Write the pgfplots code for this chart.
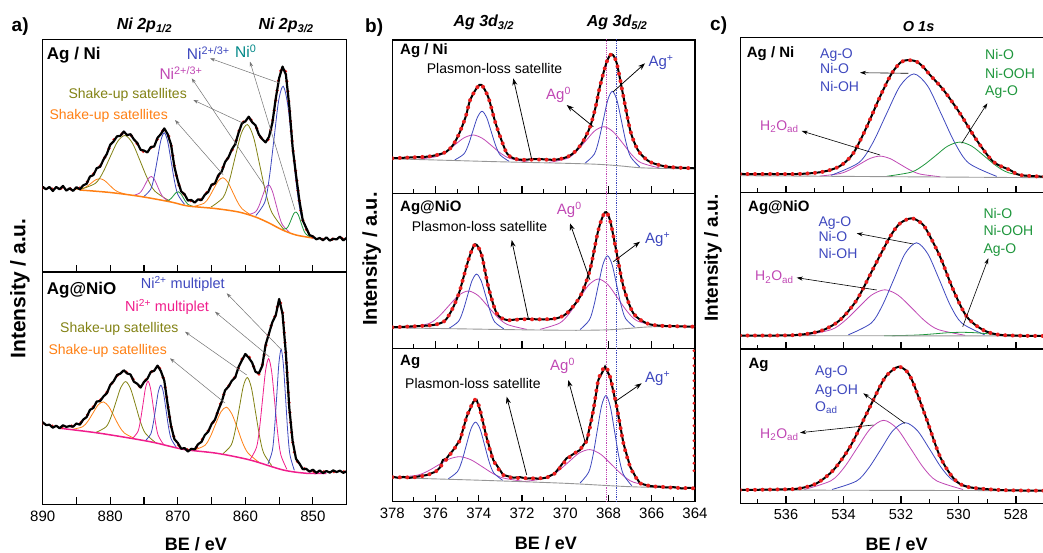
\documentclass[border=0pt]{standalone}
\usepackage{pgfplots}
\usepackage{pgfplotstable}
\pgfplotsset{compat=1.18}
\usepackage{fontspec}
\setmainfont{Liberation Sans}
\usetikzlibrary{arrows.meta}
\definecolor{cblue}{RGB}{62,72,190}
\definecolor{cmag}{RGB}{192,72,180}
\definecolor{cpink}{RGB}{240,30,140}
\definecolor{colive}{RGB}{130,130,20}
\definecolor{corange}{RGB}{255,128,20}
\definecolor{cgreen}{RGB}{30,150,60}
\definecolor{cteal}{RGB}{0,135,135}
\definecolor{cgray}{RGB}{150,150,150}
\definecolor{fitred}{RGB}{235,30,30}
\definecolor{agray}{RGB}{115,115,115}
\newcommand\ann{\fontsize{14}{17}\selectfont}
% tick marks drawn inward from the lower spine (y unit = 1pt)
\newcommand\ticksA{%
  \pgfplotsinvokeforeach{850,860,870,880}{\draw[black,line width=1.1pt] (axis cs:##1,0) -- (axis cs:##1,7);}%
  \pgfplotsinvokeforeach{855,865,875,885}{\draw[black,line width=1.1pt] (axis cs:##1,0) -- (axis cs:##1,7);}}
\newcommand\ticksB{%
  \pgfplotsinvokeforeach{366,368,370,372,374,376}{\draw[black,line width=1.1pt] (axis cs:##1,0) -- (axis cs:##1,7);}%
  \pgfplotsinvokeforeach{365,367,369,371,373,375,377}{\draw[black,line width=1.1pt] (axis cs:##1,0) -- (axis cs:##1,4.5);}}
\newcommand\ticksC{%
  \pgfplotsinvokeforeach{528,530,532,534,536}{\draw[black,line width=1.1pt] (axis cs:##1,0) -- (axis cs:##1,7);}%
  \pgfplotsinvokeforeach{529,531,533,535,537}{\draw[black,line width=1.1pt] (axis cs:##1,0) -- (axis cs:##1,4.5);}}

\pgfplotsset{
  xpsax/.style={scale only axis, anchor=north west, x dir=reverse,
    axis line style={line width=1.2pt},
    ytick=\empty, xtick pos=left, tick align=inside,
    major tick length=7pt, minor tick length=4.5pt,
    tick style={line width=1pt, black},
    ymin=0, clip=true,
    /pgf/number format/assume math mode=true,
    /pgf/number format/1000 sep={},
    xticklabel style={font=\fontsize{15}{18}\selectfont, yshift=-3pt}},
  cmp/.style={no marks, smooth, line width=0.8pt},
  dat/.style={no marks, black, line width=2.2pt, line join=round},
  fitd/.style={no marks, smooth, draw=fitred, line width=4pt, line cap=round, dash pattern=on 0pt off 7.5pt},
}

\pgfplotstableread{
E env dat
890.0 84 85.2
889.5 83.5 82.7
889.0 84.5 85.0
888.5 82.5 81.0
888.0 84 85.0
887.5 83 82.7
887.0 84.5 86.1
886.5 82.5 81.4
886.0 83.5 83.7
885.5 82 81.1
885.0 83.5 84.8
884.5 84 82.6
884.0 86 86.7
883.5 89 88.2
883.0 94 95.5
882.5 98 96.9
882.0 102 103.8
881.5 106 105.2
881.0 112 112.4
880.5 119 118.1
880.0 126 127.3
879.5 132 130.6
879.0 135 135.7
878.5 137 136.2
878.0 139 140.5
877.5 138 136.9
877.0 137 137.8
876.5 134 132.6
876.0 128 129.0
875.5 123 122.2
875.0 120 121.4
874.5 121 119.6
874.0 124 124.9
873.5 127 125.5
873.0 133 134.2
872.5 139 138.0
872.0 142 143.6
871.5 139 137.8
871.0 127 127.4
870.5 106 105.1
870.0 90 91.3
869.5 82 80.6
869.0 77 77.7
868.5 73 71.5
868.0 71 72.0
867.5 70 69.4
867.0 71 72.6
866.5 73 71.9
866.0 77 77.2
865.5 81 80.1
865.0 86 87.3
864.5 90 88.6
864.0 96 96.7
863.5 102 100.5
863.0 109 110.0
862.5 115 114.7
862.0 121 122.6
861.5 129 127.9
861.0 140 139.4
860.5 148 148.8
860.0 152 150.6
859.5 154 155.3
859.0 151 149.8
858.5 146 146.7
858.0 139 137.5
857.5 132 132.8
857.0 130.5 129.6
856.5 134 135.2
856.0 150 149.2
855.5 172 173.6
855.0 195 193.9
854.5 205 205.4
854.0 199 197.5
853.5 165 166.0
853.0 125 124.4
852.5 98 97.0
852.0 70 71.3
851.5 52 51.6
851.0 43 44.2
850.5 38 36.9
850.0 35 35.6
849.5 34 32.7
849.0 33 34.0
848.5 32.5 31.8
848.0 33 34.6
847.5 32.5 31.4
847.0 33 33.2
846.5 33.5 32.6
846.0 34 35.3
845.5 33 31.6
845.0 33.5 34.2
}\tabAtop

\pgfplotstableread{
E env dat
890.0 81 82.1
889.5 80 79.2
889.0 79 79.6
888.5 78 76.6
888.0 77.5 78.6
887.5 76.5 76.1
887.0 77.5 79.0
886.5 78.5 77.4
886.0 78 78.3
885.5 78.5 77.6
885.0 79.5 80.8
884.5 81 79.6
884.0 84 84.7
883.5 88 87.2
883.0 93 94.5
882.5 97.5 96.4
882.0 101 102.8
881.5 104 103.2
881.0 107.5 107.9
880.5 112 111.1
880.0 118 119.3
879.5 124.5 123.1
879.0 128.5 129.2
878.5 131.5 130.7
878.0 132.5 134.0
877.5 132 130.9
877.0 129 129.8
876.5 124 122.6
876.0 119.5 120.5
875.5 117.5 116.7
875.0 121 122.4
874.5 127 125.6
874.0 131.5 132.4
873.5 135 133.5
873.0 137.5 138.7
872.5 134 133.1
872.0 122 123.6
871.5 101 99.8
871.0 78 78.4
870.5 66 65.1
870.0 60 61.3
869.5 57 55.6
869.0 55.5 56.2
868.5 54.3 52.8
868.0 54.5 55.5
867.5 55.5 54.9
867.0 58.5 60.1
866.5 63.5 62.4
866.0 69 69.2
865.5 73.5 72.6
865.0 79 80.3
864.5 86 84.6
864.0 93.5 94.2
863.5 104 102.5
863.0 113 114.0
862.5 118 117.7
862.0 122 123.6
861.5 128 126.9
861.0 137 137.4
860.5 145 144.1
860.0 149 150.3
859.5 148 146.6
859.0 141 141.7
858.5 134 132.5
858.0 130 131.0
857.5 139 138.4
857.0 158 159.6
856.5 172 170.9
856.0 182 182.2
855.5 190 189.1
855.0 204 205.3
854.5 192 190.6
854.0 150 150.7
853.5 98 96.5
853.0 62 63.0
852.5 46 45.4
852.0 39.5 40.8
851.5 36.5 35.1
851.0 34.5 35.5
850.5 33.5 32.7
850.0 33 34.6
849.5 32.5 31.4
849.0 32.6 33.8
848.5 32.6 31.2
848.0 32.6 33.3
847.5 32.6 31.7
847.0 32.6 33.9
846.5 32.6 32.3
846.0 32.6 33.6
845.5 32.6 31.5
845.0 32.6 33.0
}\tabAbot

\begin{document}
\begin{tikzpicture}
\useasboundingbox (0pt,0pt) rectangle (1043pt,552pt);

% ================= Panel a, top (Ag / Ni)
\begin{axis}[xpsax, at={(42.7pt,512.7pt)}, width=304pt, height=232.7pt,
  xmin=845, xmax=890, ymax=232.7,
  xtick={850,860,...,890}, minor xtick={845,855,...,885}, xticklabels={}]
\addplot[cmp, corange] coordinates {(885.4,82.4)(884.1,83.6)(883.45,85.6)(882.8,89.0)(882.15,92.2)(881.5,93.3)(880.85,91.5)(880.2,87.5)(879.55,83.3)(878.9,80.3)(877.6,77.5)};
\addplot[cmp, colive] coordinates {(884.4,82.6)(882.2,88.7)(881.1,99.3)(880.0,115.3)(878.9,130.6)(877.8,136.5)(876.7,128.7)(875.6,111.4)(874.5,93.5)(873.4,80.9)(871.2,70.9)};
\addplot[cmp, cmag] coordinates {(876.6,76.5)(875.7,78.7)(875.25,82.3)(874.8,87.9)(874.35,93.5)(873.9,95.5)(873.45,92.4)(873.0,85.7)(872.55,78.9)(872.1,74.3)(871.2,70.4)};
\addplot[cmp, cblue] coordinates {(875.0,75.6)(874.0,82.9)(873.5,95.2)(873.0,113.6)(872.5,131.8)(872.0,139.2)(871.5,130.6)(871.0,111.2)(870.5,91.3)(870.0,77.6)(869.0,67.6)};
\addplot[cmp, cgreen] coordinates {(872.0,71.3)(871.3,72.0)(870.95,73.8)(870.6,76.7)(870.25,79.4)(869.9,80.2)(869.55,78.3)(869.2,74.4)(868.85,70.5)(868.5,67.6)(867.8,65.7)};
\addplot[cmp, corange] coordinates {(867.5,65.8)(866.1,68.8)(865.4,74.5)(864.7,83.0)(864.0,91.2)(863.3,94.3)(862.6,89.8)(861.9,80.3)(861.2,70.6)(860.5,63.3)(859.1,56.6)};
\addplot[cmp, colive] coordinates {(865.1,64.9)(863.3,74.5)(862.4,90.6)(861.5,115.1)(860.6,138.6)(859.7,147.4)(858.8,135.0)(857.9,107.8)(857.0,79.7)(856.1,59.8)(854.3,42.5)};
\addplot[cmp, cmag] coordinates {(859.5,57.4)(858.5,60.1)(858.0,65.8)(857.5,75.1)(857.0,84.0)(856.5,87.0)(856.0,80.8)(855.5,68.6)(855.0,56.1)(854.5,47.1)(853.5,39.9)};
\addplot[cmp, cblue] coordinates {(858.45,56.4)(857.1,70.3)(856.43,95.5)(855.75,133.7)(855.08,171.1)(854.4,185.8)(853.73,167.2)(853.05,125.7)(852.38,83.7)(851.7,55.5)(850.35,36.0)};
\addplot[cmp, cgreen] coordinates {(854.6,42.6)(853.9,43.6)(853.55,47.1)(853.2,52.7)(852.85,58.2)(852.5,60.0)(852.15,56.9)(851.8,50.2)(851.45,43.2)(851.1,38.4)(850.4,34.8)};
\addplot[no marks, smooth, corange, line width=1.5pt] coordinates {(884.5,82)(880,79.5)(875.5,75.5)(871,70)(868.5,66)(864.5,63.5)(861,60)(858.5,55)(856.5,49)(854.5,42)(852.5,37)(850,34)};
\addplot[fitd, line width=3.5pt, dash pattern=on 0pt off 10pt] table[x=E,y=env]{\tabAtop};
\addplot[dat] table[x=E,y=dat]{\tabAtop};
\ticksA
\end{axis}

% ================= Panel a, bottom (Ag@NiO)
\begin{axis}[xpsax, at={(42.7pt,279.7pt)}, width=304pt, height=232pt,
  xmin=845, xmax=890, ymax=232,
  xtick={850,860,...,890}, minor xtick={845,855,...,885}]
\addplot[cmp, corange] coordinates {(885.65,74.9)(884.1,77.5)(883.33,82.9)(882.55,91.3)(881.78,99.5)(881.0,102.4)(880.23,97.8)(879.45,88.1)(878.68,78.2)(877.9,71.2)(876.35,65.6)};
\addplot[cmp, colive] coordinates {(882.05,72.1)(880.6,77.6)(879.88,87.4)(879.15,102.4)(878.43,116.9)(877.7,122.7)(876.98,115.3)(876.25,99.1)(875.53,82.4)(874.8,71.0)(873.35,62.0)};
\addplot[cmp, cpink] coordinates {(876.65,66.3)(875.9,72.8)(875.53,83.8)(875.15,100.2)(874.78,116.4)(874.4,123.0)(874.03,115.5)(873.65,98.3)(873.28,80.8)(872.9,68.8)(872.15,60.3)};
\addplot[cmp, cblue] coordinates {(874.75,63.9)(874.0,70.4)(873.63,81.1)(873.25,97.1)(872.88,112.8)(872.5,119.1)(872.13,111.7)(871.75,94.8)(871.38,77.6)(871.0,65.8)(870.25,57.3)};
\addplot[cmp, corange] coordinates {(867.6,54.2)(866.0,58.9)(865.2,67.4)(864.4,80.3)(863.6,92.6)(862.8,97.1)(862.0,90.4)(861.2,76.5)(860.4,61.4)(859.6,51.2)(858.0,42.1)};
\addplot[cmp, colive] coordinates {(863.3,50.7)(862.1,59.2)(861.5,73.9)(860.9,96.2)(860.3,118.1)(859.7,126.8)(859.1,116.3)(858.5,92.4)(857.9,68.1)(857.3,51.3)(856.1,38.7)};
\addplot[cmp, cpink] coordinates {(859.25,45.4)(858.35,56.9)(857.9,76.1)(857.45,105.4)(857.0,134.0)(856.55,145.7)(856.1,132.2)(855.65,101.8)(855.2,70.6)(854.75,49.5)(853.85,35.0)};
\addplot[cmp, cblue] coordinates {(856.65,40.3)(856.0,53.8)(855.68,75.9)(855.35,109.1)(855.03,141.5)(854.7,154.9)(854.38,140.2)(854.05,106.8)(853.73,72.7)(853.4,49.6)(852.75,34.0)};
\addplot[no marks, smooth, cpink, line width=1.5pt] coordinates {(887.4,76)(881.5,71)(874.1,62.6)(869.2,55)(864.2,51)(859.3,44.3)(854.4,34.3)(850.9,31)(848,31)};
\addplot[fitd, line width=3.5pt, dash pattern=on 0pt off 10pt] table[x=E,y=env]{\tabAbot};
\addplot[dat] table[x=E,y=dat]{\tabAbot};
\ticksA
\end{axis}

% ================= Panel b, top (Ag / Ni)
\begin{axis}[xpsax, at={(392.3pt,512pt)}, width=302.7pt, height=153.3pt,
  xmin=364, xmax=378, ymax=153.3,
  xtick={364,366,...,378}, minor xtick={365,367,...,377}, xticklabels={}]
\addplot[no marks, densely dotted, cmag, line width=0.8pt] coordinates {(368.08,0)(368.08,160)};
\addplot[no marks, densely dotted, cblue, line width=0.8pt] coordinates {(367.65,0)(367.65,160)};
\addplot[cmp, cmag] coordinates {(376.8,34.1)(375.95,36.8)(375.53,41.4)(375.1,48.6)(374.68,55.5)(374.25,58.3)(373.83,54.9)(373.4,47.5)(372.98,39.9)(372.55,34.8)(371.7,31.1)};
\addplot[cmp, cblue] coordinates {(375.11,33.4)(374.69,39.3)(374.48,48.6)(374.27,62.6)(374.06,76.2)(373.85,82.0)(373.64,76.0)(373.43,62.0)(373.22,47.8)(373.01,38.3)(372.59,31.9)};
\addplot[cmp, cmag] coordinates {(370.75,30.8)(369.9,35.0)(369.48,42.0)(369.05,52.5)(368.63,62.6)(368.2,66.6)(367.78,61.4)(367.35,50.3)(366.93,38.7)(366.5,30.6)(365.65,25.4)};
\addplot[cmp, cblue] coordinates {(369.08,30.2)(368.66,39.1)(368.45,52.9)(368.24,73.5)(368.03,93.6)(367.82,102.0)(367.61,93.0)(367.4,72.2)(367.19,50.9)(366.98,36.5)(366.56,26.4)};
\addplot[no marks, smooth, cgray, line width=0.9pt] coordinates {(378,34.5)(375.5,33)(373,31.5)(370,30)(368.5,29)(367.5,27.5)(366.5,25.5)(365,24.7)(364,24.5)};
\addplot[no marks, smooth, black, line width=2pt] coordinates {(378,35)(377.5,35.5)(377,36)(376.4,36.6)(375.9,38.5)(375.5,41.6)(375.2,48)(374.9,60)(374.6,77)(374.4,93.3)(374.07,106)(373.87,108.3)(373.56,96)(373.25,72)(373.0,56)(372.7,40)(372.4,35)(372,33.5)(371.3,34.3)(370.6,33.5)(370.2,34.5)(369.8,37.5)(369.47,43.3)(369.15,53)(368.85,66.6)(368.6,86)(368.4,106.6)(368.08,131.6)(367.85,139)(367.62,130)(367.31,96.6)(367.0,63.3)(366.75,48)(366.54,40)(366.2,33)(365.93,30)(365.4,27)(364.8,25.7)(364,25)};
\addplot[fitd] coordinates {(378,35)(377.5,35.5)(377,36)(376.4,36.6)(375.9,38.5)(375.5,41.6)(375.2,48)(374.9,60)(374.6,77)(374.4,93.3)(374.07,106)(373.87,108.3)(373.56,96)(373.25,72)(373.0,56)(372.7,40)(372.4,35)(372,33.5)(371.3,33.8)(370.6,33.5)(370.2,34.5)(369.8,37.5)(369.47,43.3)(369.15,53)(368.85,66.6)(368.6,86)(368.4,106.6)(368.08,131.6)(367.85,139)(367.62,130)(367.31,96.6)(367.0,63.3)(366.75,48)(366.54,40)(366.2,33)(365.93,30)(365.4,27)(364.8,25.7)(364,25)};
\ticksB
\end{axis}

% ================= Panel b, middle (Ag@NiO)
\begin{axis}[xpsax, at={(392.3pt,358.7pt)}, width=302.7pt, height=155pt,
  xmin=364, xmax=378, ymax=155,
  xtick={364,366,...,378}, minor xtick={365,367,...,377}, xticklabels={}]
\addplot[no marks, densely dotted, cmag, line width=0.8pt] coordinates {(368.08,0)(368.08,160)};
\addplot[no marks, densely dotted, cblue, line width=0.8pt] coordinates {(367.65,0)(367.65,160)};
\addplot[cmp, cmag] coordinates {(377.18,20.6)(376.28,25.0)(375.83,32.1)(375.38,42.7)(374.93,53.0)(374.48,57.3)(374.03,52.7)(373.58,42.0)(373.13,31.2)(372.68,23.8)(371.78,18.9)};
\addplot[cmp, cblue] coordinates {(375.36,20.2)(374.94,26.9)(374.73,37.3)(374.52,52.7)(374.31,67.8)(374.1,74.2)(373.89,67.6)(373.68,52.5)(373.47,36.9)(373.26,26.3)(372.84,19.4)};
\addplot[cmp, cmag] coordinates {(371.17,18.9)(370.27,25.1)(369.82,34.7)(369.37,48.9)(368.92,63.2)(368.47,69.3)(368.02,63.5)(367.57,50.0)(367.12,36.4)(366.67,27.4)(365.77,22.2)};
\addplot[cmp, cblue] coordinates {(369.31,18.8)(368.89,28.2)(368.68,42.2)(368.47,63.2)(368.26,83.7)(368.05,92.5)(367.84,84.1)(367.63,64.0)(367.42,43.4)(367.21,29.7)(366.79,21.1)};
\addplot[no marks, smooth, cgray, line width=0.9pt] coordinates {(378,20.5)(375,19.5)(372,18.5)(369.5,18)(368,18.5)(367,20)(366,21.5)(364,22)};
\addplot[no marks, smooth, black, line width=2pt] coordinates {(378,21)(377,22)(376.1,23.3)(375.6,27)(375.33,35)(375.1,45)(374.87,58.3)(374.48,88.3)(374.17,104)(373.87,93.3)(373.56,61.6)(373.17,35)(372.7,28.3)(372,29.5)(371,28.8)(370.4,30)(369.93,35)(369.32,51.6)(368.86,78.3)(368.47,118.3)(368.16,136)(367.93,128)(367.62,95)(367.31,61.6)(366.85,35)(366.23,25)(365.62,22.6)(364.8,22)(364,21.6)};
\addplot[fitd] coordinates {(378,21)(377,22)(376.1,23.3)(375.6,27)(375.33,35)(375.1,45)(374.87,58.3)(374.48,88.3)(374.17,104)(373.87,93.3)(373.56,61.6)(373.17,35)(372.7,28.3)(372,29)(371,29)(370.4,30)(369.93,35)(369.32,51.6)(368.86,78.3)(368.47,118.3)(368.16,136)(367.93,128)(367.62,95)(367.31,61.6)(366.85,35)(366.23,25)(365.62,22.6)(364.8,22)(364,21.6)};
\ticksB
\end{axis}

% ================= Panel b, bottom (Ag)
\begin{axis}[xpsax, at={(392.3pt,203.7pt)}, width=302.7pt, height=153.4pt,
  xmin=364, xmax=378, ymax=153.4,
  xtick={364,366,...,378}, minor xtick={365,367,...,377}]
\addplot[no marks, densely dotted, cmag, line width=0.8pt] coordinates {(368.08,0)(368.08,160)};
\addplot[no marks, densely dotted, cblue, line width=0.8pt] coordinates {(367.65,0)(367.65,160)};
\addplot[cmp, cmag] coordinates {(377.87,24.2)(376.87,26.4)(376.37,30.5)(375.87,36.7)(375.37,42.7)(374.87,45.0)(374.37,42.0)(373.87,35.4)(373.37,28.5)(372.87,23.7)(371.87,20.1)};
\addplot[cmp, cblue] coordinates {(375.41,22.9)(374.99,30.0)(374.78,40.7)(374.57,57.0)(374.36,72.9)(374.15,79.6)(373.94,72.7)(373.73,56.5)(373.52,39.9)(373.31,28.9)(372.89,21.3)};
\addplot[cmp, cmag] coordinates {(371.86,20.2)(370.86,23.8)(370.36,30.1)(369.86,39.4)(369.36,48.6)(368.86,52.1)(368.36,47.4)(367.86,37.2)(367.36,26.8)(366.86,19.6)(365.86,14.8)};
\addplot[cmp, cblue] coordinates {(369.32,18.6)(368.92,29.4)(368.72,46.1)(368.52,71.3)(368.32,95.9)(368.12,106.2)(367.92,95.4)(367.72,70.4)(367.52,44.8)(367.32,27.6)(366.92,15.9)};
\addplot[no marks, smooth, cgray, line width=0.9pt] coordinates {(378,24)(374,21.5)(370,18.4)(367,15)(364,13.4)};
\addplot[no marks, black, line width=2pt] coordinates {(378,25)(377.7,23.8)(377.5,24.8)(377.2,23.9)(377,24.6)(376.8,25.2)(376.4,26.7)(376,30)(375.8,34)(375.66,41.7)(375.5,43)(375.4,46)(375.18,51.7)(374.87,61.7)(374.56,85)(374.25,100)(374.1,101.7)(373.94,91.7)(373.63,63.4)(373.33,41.7)(372.87,26.7)(372.6,25.2)(372.4,24)(372.1,24.6)(371.8,23.1)(371.5,23.6)(371.2,22.9)(370.9,24)(370.5,28)(370.24,35)(369.94,43.4)(369.6,48)(369.32,51.7)(369.0,61.7)(368.7,91.7)(368.47,121.7)(368.16,135)(367.93,125)(367.62,95)(367.31,58.4)(367.0,35)(366.75,25)(366.54,18.4)(366.2,16.2)(366,15.5)(365.62,15)(365.3,14.2)(365,14.6)(364.6,13.2)(364.3,13.9)(364,13.4)};
\addplot[fitd] coordinates {(378,24.5)(377,24.4)(376.4,26.7)(376,30)(375.66,38)(375.4,45)(375.18,51.7)(374.87,61.7)(374.56,85)(374.25,100)(374.1,101.7)(373.94,91.7)(373.63,63.4)(373.33,41.7)(372.87,26.7)(372.4,24)(371.5,23.4)(370.9,24)(370.5,28)(370.24,34)(369.94,42)(369.6,48)(369.32,52.5)(369.0,61.7)(368.7,91.7)(368.47,121.7)(368.16,135)(367.93,125)(367.62,95)(367.31,58.4)(367.0,35)(366.75,25)(366.54,18.4)(366,15.5)(365.62,15)(365,14)(364,13.4)};
\addplot[fitd, sharp plot, line width=3pt] coordinates {(364.05,31)(364.05,153)};
\ticksB
\end{axis}

% ================= Panel c, top (Ag / Ni)
\begin{axis}[xpsax, at={(740.7pt,514.3pt)}, width=304pt, height=155pt,
  xmin=527, xmax=537.576, ymax=155,
  xtick={528,530,...,536}, minor xtick={527,529,...,537}, xticklabels={}]
\addplot[cmp, cmag] coordinates {(534.83,16.6)(534.13,19.1)(533.78,22.9)(533.43,28.6)(533.08,34.2)(532.73,36.6)(532.38,34.1)(532.03,28.4)(531.68,22.6)(531.33,18.6)(530.63,15.9)};
\addplot[cmp, cblue] coordinates {(534.43,17.4)(533.47,30.0)(532.99,49.4)(532.51,78.5)(532.03,106.8)(531.55,118.8)(531.07,106.6)(530.59,78.1)(530.11,48.9)(529.63,29.3)(528.67,16.3)};
\addplot[cmp, cgreen] coordinates {(532.5,16.4)(531.65,20.5)(531.23,27.2)(530.8,36.9)(530.38,46.5)(529.95,50.6)(529.53,46.4)(529.1,36.6)(528.68,26.7)(528.25,19.9)(527.4,15.5)};
\addplot[no marks, cgray, line width=0.9pt] coordinates {(537.6,17)(527,15)};
\addplot[no marks, smooth, black, line width=2pt] coordinates {(537.6,18.7)(536.5,18.7)(535.5,18.8)(534.7,21)(534.12,26.7)(533.66,39.4)(533.19,66)(532.73,96)(532.32,119.4)(531.98,131)(531.7,132.5)(531.45,131)(531.2,125)(530.99,117.7)(530.52,102.7)(529.95,79.4)(529.37,52.7)(528.79,31)(528.21,22.7)(527.86,17.7)(527,16)};
\addplot[fitd] coordinates {(537.6,18.7)(536.5,18.7)(535.5,18.8)(534.7,21)(534.12,26.7)(533.66,39.4)(533.19,66)(532.73,96)(532.32,119.4)(531.98,131)(531.7,132.5)(531.45,131)(531.2,125)(530.99,117.7)(530.52,102.7)(529.95,79.4)(529.37,52.7)(528.79,31)(528.21,22.7)(527.86,17.7)(527,16)};
\ticksC
\end{axis}

% ================= Panel c, middle (Ag@NiO)
\begin{axis}[xpsax, at={(740.7pt,359.3pt)}, width=304pt, height=156.3pt,
  xmin=527, xmax=537.576, ymax=156.3,
  xtick={528,530,...,536}, minor xtick={527,529,...,537}, xticklabels={}]
\addplot[cmp, cmag] coordinates {(535.35,13.7)(534.42,19.4)(533.96,28.1)(533.49,41.1)(533.03,53.8)(532.56,59.2)(532.1,53.8)(531.63,41.1)(531.17,28.1)(530.7,19.4)(529.77,13.7)};
\addplot[cmp, cblue] coordinates {(533.83,14.2)(533.04,25.8)(532.65,43.4)(532.25,69.6)(531.86,95.3)(531.46,106.2)(531.07,95.3)(530.67,69.6)(530.28,43.4)(529.88,25.8)(529.09,14.2)};
\addplot[cmp, cgreen] coordinates {(532.59,13.2)(531.69,13.7)(531.24,14.3)(530.79,15.3)(530.34,16.3)(529.89,16.7)(529.44,16.3)(528.99,15.3)(528.54,14.3)(528.09,13.7)(527.19,13.2)};
\addplot[no marks, cgray, line width=0.9pt] coordinates {(537.6,13.4)(527,13)};
\addplot[no marks, smooth, black, line width=2pt] coordinates {(537.6,13.5)(536,13.6)(535.3,15)(534.7,19)(534.12,29)(533.54,49)(532.96,80.7)(532.38,112.3)(532.03,125.7)(531.63,130.7)(531.3,126)(531.11,119)(530.64,92.3)(530.18,59)(529.71,32.3)(529.14,19)(528.5,14)(527,13)};
\addplot[fitd] coordinates {(537.6,13.5)(536,13.6)(535.3,15)(534.7,19)(534.12,29)(533.54,49)(532.96,80.7)(532.38,112.3)(532.03,125.7)(531.63,130.7)(531.3,126)(531.11,119)(530.64,92.3)(530.18,59)(529.71,32.3)(529.14,19)(528.5,14)(527,13)};
\ticksC
\end{axis}

% ================= Panel c, bottom (Ag)
\begin{axis}[xpsax, at={(740.7pt,203pt)}, width=304pt, height=154.3pt,
  xmin=527, xmax=537.576, ymax=154.3,
  xtick={528,530,...,536}, minor xtick={527,529,...,537},
  xticklabel style={font=\fontsize{14.5}{17}\selectfont}]
\addplot[cmp, cmag] coordinates {(535.36,13.8)(534.44,22.5)(533.98,35.7)(533.52,55.5)(533.06,74.8)(532.6,83.0)(532.14,74.8)(531.68,55.5)(531.22,35.7)(530.76,22.5)(529.84,13.8)};
\addplot[cmp, cblue] coordinates {(534.4,13.8)(533.55,22.2)(533.13,35.0)(532.7,54.0)(532.28,72.7)(531.85,80.6)(531.43,72.7)(531.0,54.0)(530.58,35.0)(530.15,22.2)(529.3,13.8)};
\addplot[no marks, cgray, line width=0.9pt] coordinates {(537.6,13.3)(527,12.6)};
\addplot[no marks, smooth, black, line width=2pt] coordinates {(537.6,13.3)(536,14)(535.51,15)(534.93,20)(534.35,33.3)(533.77,56.6)(533.19,90)(532.61,123.3)(532.3,133)(532.07,136.6)(531.8,132)(531.57,120)(531.1,83.3)(530.64,46.6)(530.17,25)(529.71,16.6)(528.55,13.3)(527,12.6)};
\addplot[fitd] coordinates {(537.6,13.3)(536,14)(535.51,15)(534.93,20)(534.35,33.3)(533.77,56.6)(533.19,90)(532.61,123.3)(532.3,133)(532.07,136.6)(531.8,132)(531.57,120)(531.1,83.3)(530.64,46.6)(530.17,25)(529.71,16.6)(528.55,13.3)(527,12.6)};
\ticksC
\end{axis}

% ================= annotations (pixel coordinates, origin top-left)
\begin{scope}[x=1pt,y=-1pt,shift={(0pt,552pt)},
  tw/.style={anchor=base west, inner sep=0pt, font=\ann},
  twB/.style={anchor=base west, inner sep=0pt, font=\fontsize{15}{18}\selectfont\bfseries},
  aarrow/.style={agray, line width=0.5pt, -{Stealth[length=5pt,width=3.5pt]}},
  barrow/.style={black, line width=0.75pt, -{Stealth[length=7pt,width=5pt]}},
  carrow/.style={black, line width=0.6pt, -{Stealth[length=6pt,width=4pt]}}]
% panel letters
\node[anchor=base west, inner sep=0pt, font=\fontsize{19}{22}\selectfont\bfseries] at (11.5,32) {a)};
\node[anchor=base west, inner sep=0pt, font=\fontsize{19}{22}\selectfont\bfseries] at (365,33) {b)};
\node[anchor=base west, inner sep=0pt, font=\fontsize{19}{22}\selectfont\bfseries] at (710,31) {c)};
% titles
\node[anchor=base west, inner sep=0pt, font=\fontsize{16}{19}\selectfont\bfseries\itshape] at (116.7,30) {Ni 2p\textsubscript{1/2}};
\node[anchor=base west, inner sep=0pt, font=\fontsize{16}{19}\selectfont\bfseries\itshape] at (258.3,30) {Ni 2p\textsubscript{3/2}};
\node[anchor=base west, inner sep=0pt, font=\fontsize{16}{19}\selectfont\bfseries\itshape] at (453.3,26.7) {Ag 3d\textsubscript{3/2}};
\node[anchor=base west, inner sep=0pt, font=\fontsize{16}{19}\selectfont\bfseries\itshape] at (586.7,26.7) {Ag 3d\textsubscript{5/2}};
\node[anchor=base west, inner sep=0pt, font=\fontsize{14.5}{17}\selectfont\bfseries\itshape] at (902.7,31.7) {O 1s};
% sample labels
\node[anchor=base west, inner sep=0pt, font=\fontsize{17}{20}\selectfont\bfseries] at (46.7,59.3) {Ag / Ni};
\node[anchor=base west, inner sep=0pt, font=\fontsize{17}{20}\selectfont\bfseries] at (46.7,294.3) {Ag@NiO};
\node[twB] at (400,55) {Ag / Ni};
\node[twB] at (400,211.7) {Ag@NiO};
\node[twB] at (400,365) {Ag};
\node[twB] at (746.7,57.7) {Ag / Ni};
\node[twB] at (748,211.7) {Ag@NiO};
\node[twB] at (748.3,368.3) {Ag};
% axis titles
\node[font=\fontsize{21}{24}\selectfont\bfseries, rotate=90] at (20,288.5) {Intensity / a.u.};
\node[font=\fontsize{20}{24}\selectfont\bfseries, rotate=90] at (371.7,259) {Intensity / a.u.};
\node[font=\fontsize{19}{22}\selectfont\bfseries, rotate=90] at (713,258) {Intensity / a.u.};
\node[anchor=base, inner sep=0pt, font=\fontsize{18}{21}\selectfont\bfseries] at (195.8,550) {BE / eV};
\node[anchor=base, inner sep=0pt, font=\fontsize{18}{21}\selectfont\bfseries] at (545.8,549.3) {BE / eV};
\node[anchor=base, inner sep=0pt, font=\fontsize{18}{21}\selectfont\bfseries] at (896.7,550) {BE / eV};
% panel a top annotations
\node[tw, font=\fontsize{15.5}{18}\selectfont, text=cblue] at (186.7,59.3) {Ni\textsuperscript{2+/3+}};
\node[tw, font=\fontsize{15.5}{18}\selectfont, text=cteal] at (235,57.3) {Ni\textsuperscript{0}};
\node[tw, font=\fontsize{15.5}{18}\selectfont, text=cmag] at (159.3,79.3) {Ni\textsuperscript{2+/3+}};
\node[tw, text=colive] at (68.3,99) {Shake-up satellites};
\node[tw, text=corange] at (49.3,120) {Shake-up satellites};
\draw[aarrow] (280,83.3) -- (210,58.3);
\draw[aarrow] (295,210) -- (250,61.7);
\draw[aarrow] (265,186.7) -- (191.7,78.3);
\draw[aarrow] (243.3,123.3) -- (193.3,100);
\draw[aarrow] (223.3,175) -- (175,120);
% panel a bottom annotations
\node[tw, font=\fontsize{14.5}{17}\selectfont, text=cblue] at (140.7,289) {Ni\textsuperscript{2+} multiplet};
\node[tw, font=\fontsize{14.5}{17}\selectfont, text=cpink] at (125,311.7) {Ni\textsuperscript{2+} multiplet};
\node[tw, text=colive] at (60,332.7) {Shake-up satellites};
\node[tw, text=corange] at (48.3,354.3) {Shake-up satellites};
\draw[aarrow] (281.7,350) -- (226.7,293.3);
\draw[aarrow] (269.3,356.7) -- (215,311.7);
\draw[aarrow] (246.7,375) -- (185,331.7);
\draw[aarrow] (225,403) -- (170,358.3);
% panel b annotations
\node[tw] at (426.7,74) {Plasmon-loss satellite};
\node[tw] at (411.7,231.7) {Plasmon-loss satellite};
\node[tw] at (405,388.3) {Plasmon-loss satellite};
\node[tw, font=\fontsize{15}{18}\selectfont, text=cmag] at (546,100) {Ag\textsuperscript{0}};
\node[tw, font=\fontsize{15}{18}\selectfont, text=cmag] at (556.7,214.3) {Ag\textsuperscript{0}};
\node[tw, font=\fontsize{15}{18}\selectfont, text=cmag] at (550,370.5) {Ag\textsuperscript{0}};
\node[tw, font=\fontsize{15}{18}\selectfont, text=cblue] at (648.3,66.7) {Ag\textsuperscript{+}};
\node[tw, font=\fontsize{15}{18}\selectfont, text=cblue] at (645,243.3) {Ag\textsuperscript{+}};
\node[tw, font=\fontsize{15}{18}\selectfont, text=cblue] at (645,382.7) {Ag\textsuperscript{+}};
\draw[barrow] (531.7,159.3) -- (513.3,78.3);
\draw[barrow] (593.3,126.7) -- (566.7,105);
\draw[barrow] (613.3,91.7) -- (645,63.3);
\draw[barrow] (528.3,318.3) -- (511.7,240);
\draw[barrow] (590,280) -- (570,223.3);
\draw[barrow] (613.3,261.7) -- (640,241.7);
\draw[barrow] (526.7,475) -- (506.7,396.7);
\draw[barrow] (585,441.7) -- (568.3,380);
\draw[barrow] (615,401.7) -- (641.7,383.3);
% panel c annotations
\node[tw, text=cblue] at (820,58.3) {Ag-O};
\node[tw, text=cblue] at (820,74) {Ni-O};
\node[tw, text=cblue] at (820,91.7) {Ni-OH};
\node[tw, text=cgreen] at (985,60) {Ni-O};
\node[tw, text=cgreen] at (985,78.3) {Ni-OOH};
\node[tw, text=cgreen] at (985,96) {Ag-O};
\node[tw, text=cmag] at (760,130.7) {H\textsubscript{2}O\textsubscript{ad}};
\draw[carrow] (908.3,73.3) -- (860,72.7);
\draw[carrow] (961.7,143.3) -- (987.3,103.3);
\draw[carrow] (880,155) -- (801.7,131);
\node[tw, text=cblue] at (818.3,226.7) {Ag-O};
\node[tw, text=cblue] at (818.3,241.7) {Ni-O};
\node[tw, text=cblue] at (818.3,258.3) {Ni-OH};
\node[tw, text=cgreen] at (983.3,218.3) {Ni-O};
\node[tw, text=cgreen] at (983.3,235.7) {Ni-OOH};
\node[tw, text=cgreen] at (983.3,253.3) {Ag-O};
\node[tw, text=cmag] at (755,281) {H\textsubscript{2}O\textsubscript{ad}};
\draw[carrow] (913.3,244) -- (856.7,233.3);
\draw[carrow] (962.7,326.7) -- (988.3,258.3);
\draw[carrow] (876.7,290) -- (796.7,277.7);
\node[tw, text=cblue] at (815,375.7) {Ag-O};
\node[tw, text=cblue] at (815,394) {Ag-OH};
\node[tw, text=cblue] at (815,411.7) {O\textsubscript{ad}};
\node[tw, text=cmag] at (760,438.3) {H\textsubscript{2}O\textsubscript{ad}};
\draw[carrow] (905,423.3) -- (863.3,393.3);
\draw[carrow] (873.3,425) -- (800,432.7);
\end{scope}
\end{tikzpicture}
\end{document}
